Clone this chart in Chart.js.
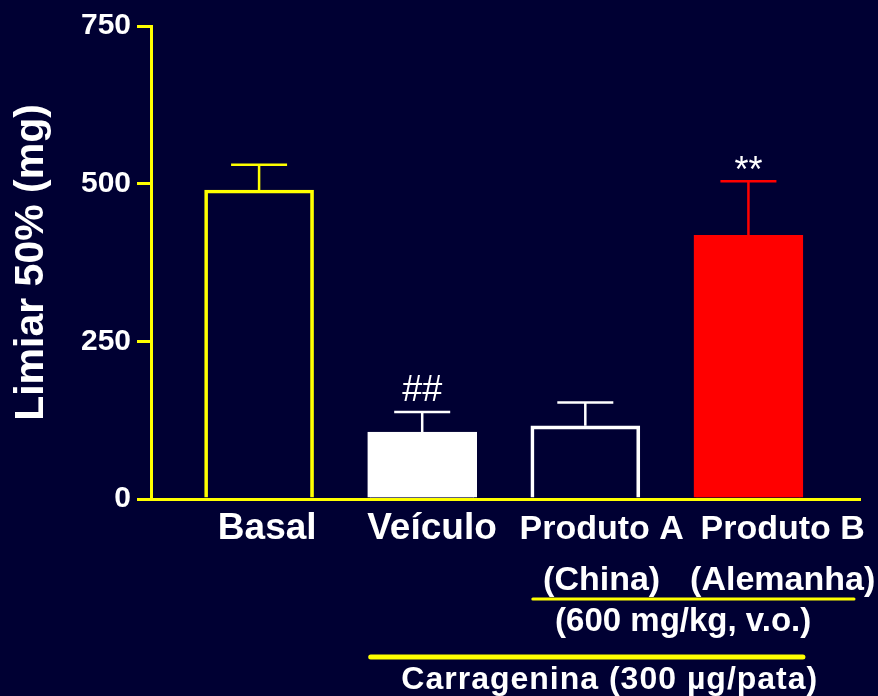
<!DOCTYPE html>
<html>
<head>
<meta charset="utf-8">
<script src="https://cdn.jsdelivr.net/npm/chart.js@4"></script>
<style>
  html, body { margin: 0; padding: 0; background: #000033; }
  canvas { display: block; }
</style>
</head>
<body>
<canvas id="myChart" width="878" height="696"></canvas>
<script>
// groups on the x axis (multi-line labels as arrays)
const groups = ['Basal', 'Veículo', ['Produto A', '(China)'], ['Produto B', '(Alemanha)']];
// limiar 50% (mg), mean and error
const means = [490, 106, 116, 418];
const errors = [40, 32, 37, 86];
// significance marks above the error bars
const marks = ['', '##', '', '**'];
const yTicks = [0, 250, 500, 750];

const font = "'Liberation Sans', Arial, sans-serif";
const yellow = '#ffff00';
const fills = ['rgba(0,0,0,0)', '#ffffff', 'rgba(0,0,0,0)', '#ff0000'];
const edges = [yellow, '#ffffff', '#ffffff', '#ff0000'];
const barWidth = 109;
// labels sit a little right of the bar centres in the original
const labelNudge = [0.05, 0.06, 0.1, 0.21];

const errorBars = {
  id: 'errorBars',
  afterDatasetsDraw(chart) {
    const ctx = chart.ctx;
    const x = chart.scales.x, y = chart.scales.y;
    ctx.save();
    means.forEach((m, i) => {
      const px = x.getPixelForValue(i + 1);
      const top = y.getPixelForValue(m + errors[i]);
      const base = y.getPixelForValue(m);
      ctx.strokeStyle = edges[i];
      ctx.lineWidth = 2.5;
      ctx.beginPath();
      ctx.moveTo(px, base);
      ctx.lineTo(px, top);
      ctx.moveTo(px - 28, top);
      ctx.lineTo(px + 28, top);
      ctx.stroke();
      if (marks[i]) {
        ctx.fillStyle = '#ffffff';
        ctx.font = '36px ' + font;
        ctx.textAlign = 'center';
        ctx.textBaseline = 'alphabetic';
        const d = ctx.measureText(marks[i]).actualBoundingBoxDescent;
        ctx.fillText(marks[i], px, top - 11 - d);
      }
    });
    ctx.restore();
  }
};

const groupNotes = {
  id: 'groupNotes',
  afterDraw(chart) {
    const ctx = chart.ctx;
    const x = chart.scales.x;
    const b = chart.chartArea.bottom;
    ctx.save();
    ctx.strokeStyle = yellow;
    ctx.lineCap = 'round';
    ctx.fillStyle = '#ffffff';
    ctx.textAlign = 'center';
    ctx.textBaseline = 'middle';

    // dose line under Produto A / B
    ctx.lineWidth = 3;
    ctx.beginPath();
    ctx.moveTo(x.getPixelForValue(3) - barWidth / 2 + 2, b + 100);
    ctx.lineTo(chart.chartArea.right - 6, b + 100);
    ctx.stroke();
    ctx.font = 'bold 33px ' + font;
    ctx.fillText('(600 mg/kg, v.o.)', x.getPixelForValue(3.6), b + 123);

    // carrageenan line under the three treated groups
    ctx.lineWidth = 5;
    ctx.beginPath();
    ctx.moveTo(x.getPixelForValue(2) - barWidth / 2 + 3, b + 158);
    ctx.lineTo(x.getPixelForValue(4) + barWidth / 2, b + 158);
    ctx.stroke();
    ctx.font = 'bold 32px ' + font;
    ctx.letterSpacing = '1px';
    ctx.fillText('Carragenina (300 µg/pata)', x.getPixelForValue(3.15), b + 181);
    ctx.restore();
  }
};

new Chart('myChart', {
  type: 'bar',
  data: {
    datasets: [{
      data: means.map((m, i) => ({ x: i + 1, y: m })),
      backgroundColor: fills,
      borderColor: edges,
      borderWidth: 3,
      borderSkipped: 'start',
      barThickness: barWidth
    }]
  },
  options: {
    responsive: false,
    animation: false,
    layout: { padding: { top: 26, right: 18, left: 0, bottom: 0 } },
    plugins: {
      legend: { display: false },
      tooltip: { enabled: false }
    },
    scales: {
      x: {
        type: 'linear',
        bounds: 'data',
        offset: false,
        min: 0.3374,
        max: 4.684,
        grid: { display: false, drawTicks: false, offset: false },
        border: { display: true, color: yellow, width: 3 },
        afterBuildTicks: scale => {
          scale.ticks = groups.map((g, i) => ({ value: i + 1 + labelNudge[i] }));
        },
        afterFit: scale => {
          scale.height = 197;
          scale.paddingLeft = 0;
          scale.paddingRight = 0;
        },
        ticks: {
          autoSkip: false,
          maxRotation: 0,
          padding: 5,
          color: '#ffffff',
          font: c => ({
            family: font,
            size: c.index >= 2 ? 34 : 37,
            weight: 'bold',
            lineHeight: c.index >= 2 ? 1.5 : 1.36
          }),
          callback: (v, i) => groups[i]
        }
      },
      y: {
        min: 0,
        max: 750,
        afterBuildTicks: scale => {
          scale.ticks = yTicks.map(v => ({ value: v }));
        },
        afterFit: scale => { scale.width = 151; },
        grid: {
          drawOnChartArea: false,
          drawTicks: true,
          tickLength: 14,
          color: yellow,
          lineWidth: 3
        },
        border: { color: yellow, width: 3 },
        ticks: {
          padding: 6,
          color: '#ffffff',
          font: { family: font, size: 30, weight: 'bold' }
        },
        title: {
          display: true,
          text: 'Limiar 50% (mg)',
          color: '#ffffff',
          padding: { top: 7, bottom: 0 },
          font: { family: font, size: 41, weight: 'bold' }
        }
      }
    }
  },
  plugins: [errorBars, groupNotes]
});
</script>
</body>
</html>
